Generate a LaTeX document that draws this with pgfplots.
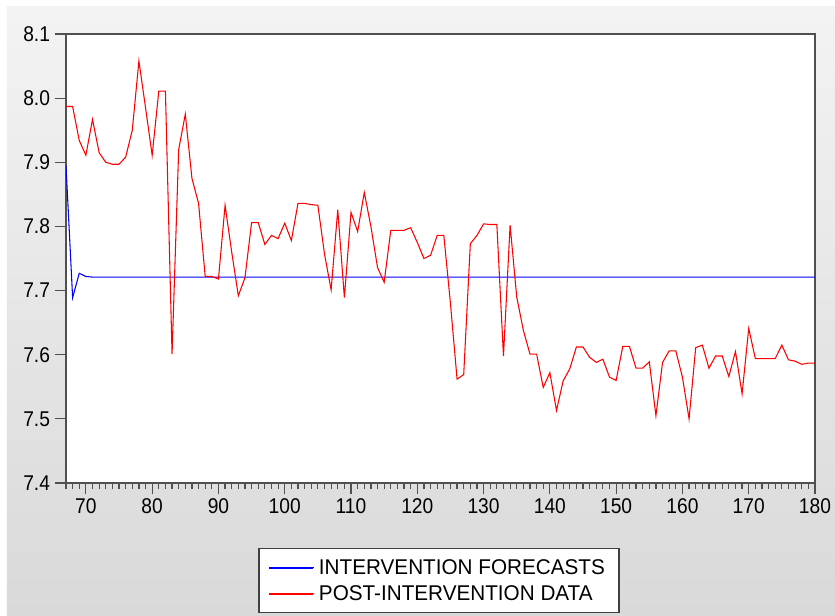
\documentclass[border=0pt]{standalone}
\usepackage{fontspec}
\setmainfont{Liberation Sans}
\newfontfamily\tickfont{Liberation Sans}[FakeStretch=0.9]
\newfontfamily\legfont{Liberation Sans}[FakeStretch=0.97]
\usepackage{pgfplots}
\pgfplotsset{compat=1.18}
\definecolor{panTop}{RGB}{243,243,243}
\definecolor{panBot}{RGB}{217,217,217}
\definecolor{frameC}{RGB}{80,80,80}
\newcommand{\lf}{\legfont\fontsize{16}{19}\selectfont}
\begin{document}
\begin{tikzpicture}
\fill[white] (-49.5pt,362.25pt) rectangle (576.75pt,-99pt);
\shade[top color=panTop,bottom color=panBot] (-44.25pt,357pt) rectangle (576.75pt,-99pt);
\begin{axis}[
  at={(0,0)}, anchor=south west,
  scale only axis, width=561.75pt, height=336.75pt,
  xmin=67, xmax=180, ymin=7.4, ymax=8.1,
  axis background/.style={fill=white},
  axis line style={draw=frameC, line width=1.2pt},
  xtick={70,80,90,100,110,120,130,140,150,160,170,180},
  minor xtick={67,68,...,180},
  ytick={7.4,7.5,7.6,7.7,7.8,7.9,8.0,8.1},
  tick align=outside,
  xtick pos=bottom, ytick pos=left,
  major tick length=8.5pt, minor tick length=4.5pt,
  tick style={draw=frameC, line width=0.9pt},
  /pgf/number format/assume math mode=true,
  ticklabel style={font=\tickfont\fontsize{16}{19}\selectfont},
  yticklabel style={/pgf/number format/.cd, fixed, precision=1, fixed zerofill},
  xticklabel style={/pgf/number format/.cd, fixed, precision=0, 1000 sep={}},
  legend style={at={(0.498,-0.1448)}, anchor=north, draw=black!75, line width=1pt,
    fill=white, inner xsep=7.5pt, inner ysep=4.45pt,
    nodes={inner xsep=3pt, inner ysep=2.75pt, text height=12pt, text depth=2pt}},
  legend cell align=left,
]
\addplot[color=blue, line width=0.8pt,
  legend image code/.code={\color{blue}\fill[blue, line width=0pt] (0pt,-0.4pt) rectangle (32.25pt,0.4pt);\path (32.25pt,0pt) -- (34pt,0pt);}] coordinates {
(67,7.895) (68,7.689) (69,7.727) (70,7.722) (71,7.721) (180,7.721)};
\addlegendentry{\lf INTERVENTION FORECASTS}
\addplot[color=red, line width=0.8pt,
  legend image code/.code={\color{red}\fill[red, line width=0pt] (0pt,-0.4pt) rectangle (32.25pt,0.4pt);\path (32.25pt,0pt) -- (34pt,0pt);}] coordinates {
(67,7.987) (68,7.987) (69,7.934) (70,7.911) (71,7.967) (72,7.915) (73,7.900) (74,7.897) (75,7.897) (76,7.908)
(77,7.950) (78,8.058) (79,7.985) (80,7.911) (81,8.011) (82,8.011) (83,7.601) (84,7.920) (85,7.975) (86,7.875)
(87,7.836) (88,7.722) (89,7.722) (90,7.718) (91,7.833) (92,7.760) (93,7.692) (94,7.720) (95,7.806) (96,7.806)
(97,7.772) (98,7.786) (99,7.781) (100,7.805) (101,7.778) (102,7.836) (103,7.836) (104,7.834) (105,7.833) (106,7.757)
(107,7.701) (108,7.826) (109,7.689) (110,7.822) (111,7.792) (112,7.853) (113,7.800) (114,7.736) (115,7.713) (116,7.794)
(117,7.794) (118,7.794) (119,7.798) (120,7.775) (121,7.750) (122,7.755) (123,7.786) (124,7.786) (125,7.680) (126,7.562)
(127,7.569) (128,7.773) (129,7.786) (130,7.804) (131,7.803) (132,7.803) (133,7.598) (134,7.802) (135,7.690) (136,7.638)
(137,7.601) (138,7.601) (139,7.549) (140,7.572) (141,7.513) (142,7.559) (143,7.578) (144,7.612) (145,7.612) (146,7.596)
(147,7.588) (148,7.593) (149,7.565) (150,7.560) (151,7.613) (152,7.613) (153,7.579) (154,7.579) (155,7.589) (156,7.505)
(157,7.588) (158,7.606) (159,7.606) (160,7.565) (161,7.500) (162,7.611) (163,7.615) (164,7.579) (165,7.598) (166,7.598)
(167,7.566) (168,7.605) (169,7.539) (170,7.641) (171,7.594) (172,7.594) (173,7.594) (174,7.594) (175,7.615) (176,7.592)
(177,7.590) (178,7.585) (179,7.587) (180,7.587)};
\addlegendentry{\lf POST-INTERVENTION DATA}
\end{axis}
\pgfresetboundingbox
\useasboundingbox (-49.5pt,362.25pt) rectangle (576.75pt,-99pt);
\end{tikzpicture}
\end{document}
